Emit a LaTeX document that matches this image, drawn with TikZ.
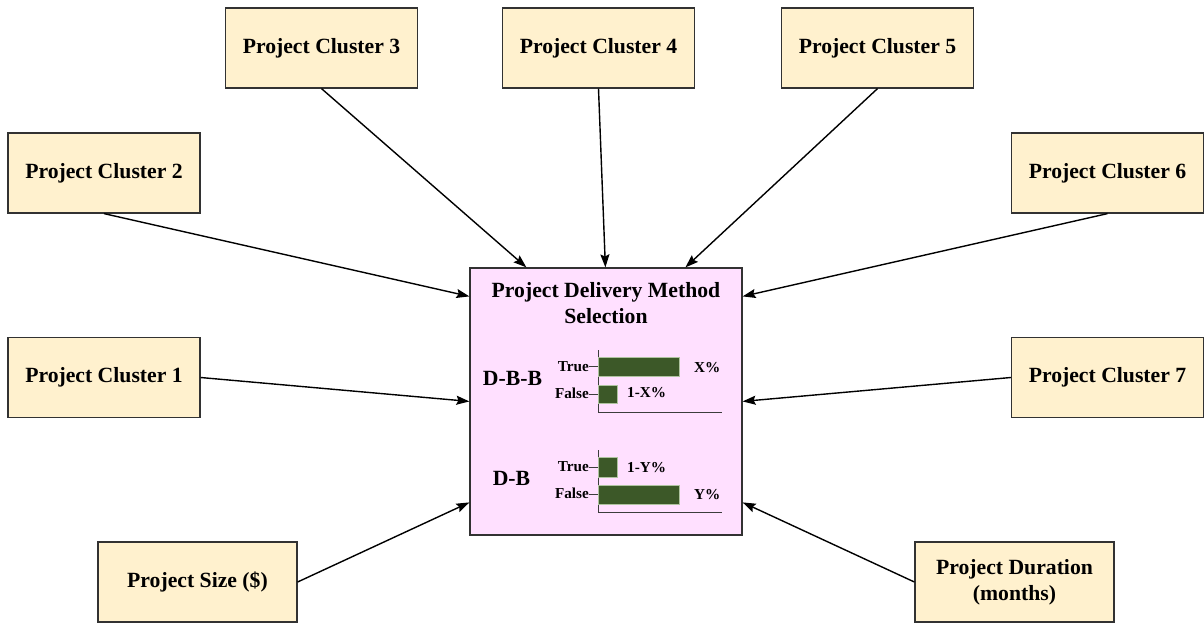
\documentclass[tikz,border=0pt]{standalone}
\usepackage{fontspec}
\setmainfont{Liberation Serif}
\usetikzlibrary{arrows.meta,calc}

\definecolor{boxfill}{RGB}{255,241,206}
\definecolor{boxline}{RGB}{50,50,50}
\definecolor{pdmfill}{RGB}{255,224,255}
\definecolor{barfill}{RGB}{60,88,40}
\definecolor{barline}{RGB}{175,195,160}
\definecolor{axisline}{RGB}{60,60,60}

\tikzset{
  factor/.style={draw=boxline, line width=1.2pt, fill=boxfill, inner sep=0pt,
    minimum width=#1, minimum height=80pt, align=center,
    font=\fontsize{21.7}{26}\selectfont\bfseries},
  factor/.default=192pt,
  pdmbox/.style={draw=boxline, line width=1.2pt, fill=pdmfill, inner sep=0pt,
    minimum width=272pt, minimum height=267pt},
  link/.style={draw=black, line width=1.4pt, -{Stealth[length=13pt,width=9pt,inset=2pt]}},
  bigtxt/.style={font=\fontsize{21.7}{26}\selectfont\bfseries, inner sep=0pt},
  smalltxt/.style={font=\fontsize{15.2}{18}\selectfont\bfseries, inner sep=0pt},
  bar/.style={fill=barfill, draw=barline, line width=0.8pt},
  axisln/.style={draw=axisline, line width=1pt}
}

\begin{document}
\begin{tikzpicture}[x=1pt, y=-1pt]
\useasboundingbox (0,0) rectangle (1204,622);

% input factors
\node[factor] (c3) at (321.5,48) {Project Cluster 3};
\node[factor] (c4) at (598.5,48) {Project Cluster 4};
\node[factor] (c5) at (877.5,48) {Project Cluster 5};
\node[factor] (c2) at (104,173) {Project Cluster 2};
\node[factor] (c6) at (1107.5,173) {Project Cluster 6};
\node[factor] (c1) at (104,377.5) {Project Cluster 1};
\node[factor] (c7) at (1107.5,377.5) {Project Cluster 7};
\node[factor=199pt] (size) at (197.5,582) {Project Size (\$)};
\node[factor=199pt] (dur) at (1014.5,582) {Project Duration\\(months)};

% decision node
\node[pdmbox] (pdm) at (606,401.5) {};

% connectors into the decision node
\coordinate (pt1) at ($(pdm.north west)+(57,0)$);
\coordinate (pt2) at ($(pdm.north west)+(136,0)$);
\coordinate (pt3) at ($(pdm.north west)+(216,0)$);
\coordinate (pl1) at ($(pdm.north west)+(0,29)$);
\coordinate (pl2) at ($(pdm.north west)+(0,134)$);
\coordinate (pl3) at ($(pdm.north west)+(0,235)$);
\coordinate (pr1) at ($(pdm.north east)+(0,29)$);
\coordinate (pr2) at ($(pdm.north east)+(0,134)$);
\coordinate (pr3) at ($(pdm.north east)+(0,235)$);

\draw[link] (c3.south) -- (pt1);
\draw[link] (c4.south) -- (pt2);
\draw[link] (c5.south) -- (pt3);
\draw[link] (c2.south) -- (pl1);
\draw[link] (c1.east) -- (pl2);
\draw[link] (size.east) -- (pl3);
\draw[link] (c6.south) -- (pr1);
\draw[link] (c7.west) -- (pr2);
\draw[link] (dur.west) -- (pr3);

% title of the decision node
\node[bigtxt, align=center] (title) at (606,303) {Project Delivery Method\\Selection};

% D-B-B chart
\node[bigtxt] (dbb) at (512.5,378) {D-B-B};
\draw[axisln] (598,350) -- (598,412) -- (722,412);
\draw[bar] (598,357) rectangle (679,376);
\draw[bar] (598,385) rectangle (617,403);
\draw[axisln] (589,366.5) -- (598,366.5);
\draw[axisln] (589,394) -- (598,394);
\node[smalltxt, anchor=east] (t1) at (589,366.5) {True};
\node[smalltxt, anchor=east] (f1) at (589,393.5) {False};
\node[smalltxt, anchor=west] (x1) at (694,368) {X\%};
\node[smalltxt, anchor=west] (x2) at (627,393) {1-X\%};

% D-B chart
\node[bigtxt] (db) at (511.5,478) {D-B};
\draw[axisln] (598,450) -- (598,512) -- (722,512);
\draw[bar] (598,457) rectangle (617,477);
\draw[bar] (598,485) rectangle (679,504);
\draw[axisln] (589,467) -- (598,467);
\draw[axisln] (589,494.5) -- (598,494.5);
\node[smalltxt, anchor=east] (t2) at (589,466.5) {True};
\node[smalltxt, anchor=east] (f2) at (589,493.5) {False};
\node[smalltxt, anchor=west] (y1) at (627,468) {1-Y\%};
\node[smalltxt, anchor=west] (y2) at (694,495) {Y\%};
\end{tikzpicture}
\end{document}
